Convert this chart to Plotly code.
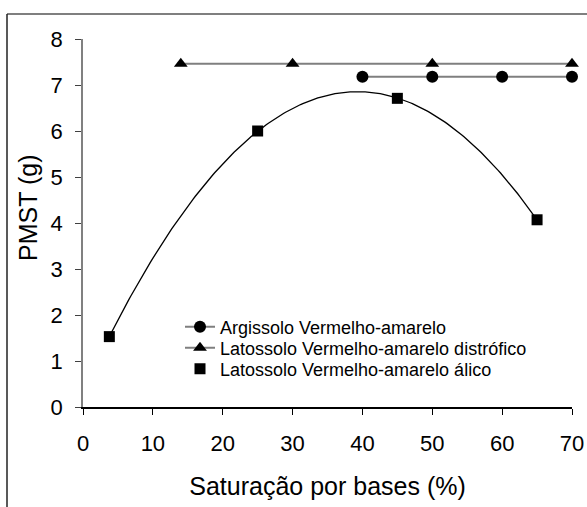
import numpy as np
import plotly.graph_objects as go

# Data
arg_x = [40, 50, 60, 70]
arg_y = [7.18, 7.18, 7.18, 7.18]
dis_x = [14, 30, 50, 70]
dis_y = [7.46, 7.46, 7.46, 7.46]
ali_x = [3.77, 25, 45, 65]
ali_y = [1.53, 6.0, 6.71, 4.07]

names = ["Argissolo Vermelho-amarelo",
         "Latossolo Vermelho-amarelo distrófico",
         "Latossolo Vermelho-amarelo álico"]

# quadratic trend of the álico series
coef = np.polyfit(ali_x, ali_y, 2)
fx = np.linspace(min(ali_x), max(ali_x), 200)
fy = np.polyval(coef, fx)

FONT = "Liberation Sans, Arial, sans-serif"

fig = go.Figure()
fig.add_trace(go.Scatter(x=fx, y=fy, mode="lines", line=dict(color="black", width=1.3),
                         showlegend=False, hoverinfo="skip", cliponaxis=False))
fig.add_trace(go.Scatter(x=arg_x, y=arg_y, mode="lines+markers", name=names[0],
                         line=dict(color="#7f7f7f", width=2),
                         marker=dict(symbol="circle", size=12, color="black"),
                         cliponaxis=False, legend="legend"))
fig.add_trace(go.Scatter(x=dis_x, y=dis_y, mode="lines+markers", name=names[1],
                         line=dict(color="#7f7f7f", width=2),
                         marker=dict(symbol="triangle-up", size=12, color="black"),
                         cliponaxis=False, legend="legend2"))
fig.add_trace(go.Scatter(x=ali_x, y=ali_y, mode="markers", name=names[2],
                         marker=dict(symbol="square", size=11, color="black"),
                         cliponaxis=False, legend="legend3"))

L, R, T, B = 83, 15, 39, 100
W, H = 587, 507
pw, ph = W - L - R, H - T - B


def leg(row_y):
    return dict(x=(180 - L) / pw, y=(H - B - row_y) / ph, xanchor="left", yanchor="middle",
                bgcolor="rgba(0,0,0,0)", borderwidth=0,
                font=dict(size=18, family=FONT, color="black"),
                itemwidth=30)


fig.update_layout(
    width=W, height=H,
    margin=dict(l=L, r=R, t=T, b=B, autoexpand=False),
    paper_bgcolor="white", plot_bgcolor="white",
    font=dict(family=FONT, color="black"),
    legend=leg(327), legend2=leg(348), legend3=leg(369),
    shapes=[
        dict(type="line", xref="paper", yref="paper",
             x0=(7 - L) / pw, x1=(W + 5 - L) / pw, y0=(H - B - 14) / ph, y1=(H - B - 14) / ph,
             line=dict(color="#555555", width=1.5)),
        dict(type="line", xref="paper", yref="paper",
             x0=(7 - L) / pw, x1=(7 - L) / pw, y0=(H - B - 14) / ph, y1=(H - B - H - 5) / ph,
             line=dict(color="#222222", width=1.5)),
    ],
    annotations=[
        dict(text="PMST (g)", xref="paper", yref="paper",
             x=(28 - L) / pw, y=(H - B - 208) / ph, xanchor="center", yanchor="middle",
             textangle=-90, showarrow=False, font=dict(size=25, family=FONT, color="black")),
    ],
)
fig.update_xaxes(range=[0, 70], tickvals=[0, 10, 20, 30, 40, 50, 60, 70],
                 showgrid=False, zeroline=False, showline=True, linecolor="black", linewidth=1.5,
                 ticks="outside", ticklen=6, tickcolor="black", tickwidth=1,
                 tickfont=dict(size=22, family=FONT), ticklabelstandoff=10,
                 title=dict(text="Saturação por bases (%)", font=dict(size=25, family=FONT), standoff=22),
                 automargin=False)
fig.update_yaxes(range=[0, 8], tickvals=[0, 1, 2, 3, 4, 5, 6, 7, 8],
                 showgrid=False, zeroline=False, showline=True, linecolor="#808080", linewidth=1.5,
                 ticks="outside", ticklen=6, tickcolor="#404040", tickwidth=1,
                 tickfont=dict(size=22, family=FONT), ticklabelstandoff=8,
                 automargin=False)

fig.write_html("out.html", config={"displayModeBar": False})
